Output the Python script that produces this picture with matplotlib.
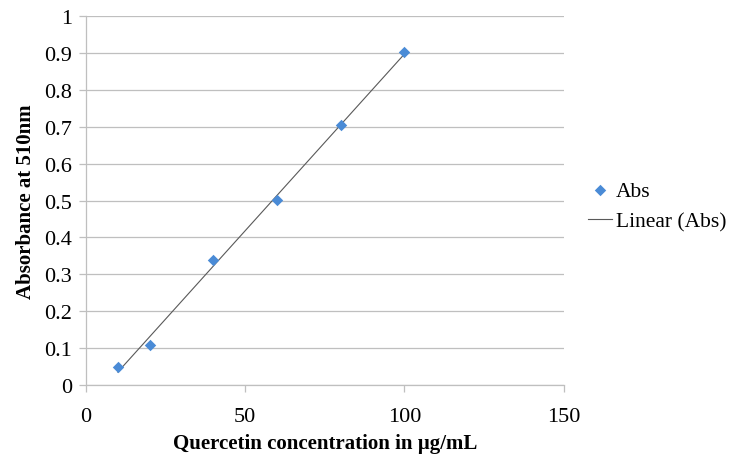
import numpy as np
import matplotlib.pyplot as plt

# === DATA ===
conc = [10, 20, 40, 60, 80, 100]
absorbance = [0.05, 0.109, 0.338, 0.503, 0.705, 0.902]
x_ticks = [0, 50, 100, 150]
y_ticks = [0, 0.1, 0.2, 0.3, 0.4, 0.5, 0.6, 0.7, 0.8, 0.9, 1]

MARKER_COLOR = '#4A8BD6'
LINE_COLOR = '#595959'
GRID_COLOR = '#BFBFBF'

plt.rcParams['font.family'] = ['Liberation Serif', 'DejaVu Serif']

fig = plt.figure(figsize=(7.35, 4.64), dpi=100)
ax = fig.add_axes([0.117, 0.168, 0.65, 0.795])

# linear trendline over data range
slope, intercept = np.polyfit(conc, absorbance, 1)
xs = np.array([min(conc), max(conc)])
ax.plot(xs, slope * xs + intercept, color=LINE_COLOR, linewidth=0.8, label='Linear (Abs)', zorder=2)
ax.scatter(conc, absorbance, marker='D', s=34, color=MARKER_COLOR, label='Abs', zorder=3, linewidths=0)

ax.set_xlim(0, 150)
ax.set_ylim(0, 1)
ax.set_xticks(x_ticks)
ax.set_xticklabels([str(t) for t in x_ticks])
ax.set_yticks(y_ticks)
ax.set_yticklabels(['0', '0.1', '0.2', '0.3', '0.4', '0.5', '0.6', '0.7', '0.8', '0.9', '1'])

ax.yaxis.grid(True, color=GRID_COLOR, linewidth=0.9)
ax.set_axisbelow(True)
for side in ['top', 'right']:
    ax.spines[side].set_visible(False)
for side in ['left', 'bottom']:
    ax.spines[side].set_color(GRID_COLOR)
    ax.spines[side].set_linewidth(0.9)
ax.tick_params(axis='both', colors=GRID_COLOR, labelcolor='black', labelsize=16, length=5, width=0.9)
ax.tick_params(axis='x', pad=11)
ax.tick_params(axis='y', pad=5)

ax.set_xlabel('Quercetin concentration in µg/mL', fontsize=15, fontweight='bold', labelpad=5)
ax.set_ylabel('Absorbance at 510nm', fontsize=15, fontweight='bold', labelpad=6)

handles, labels = ax.get_legend_handles_labels()
ax.legend(handles[::-1], labels[::-1], loc='center left', bbox_to_anchor=(1.01, 0.485),
          frameon=False, fontsize=15.5, handlelength=1.1, handletextpad=0.2, labelspacing=0.5)

fig.savefig('out.png', dpi=100)
